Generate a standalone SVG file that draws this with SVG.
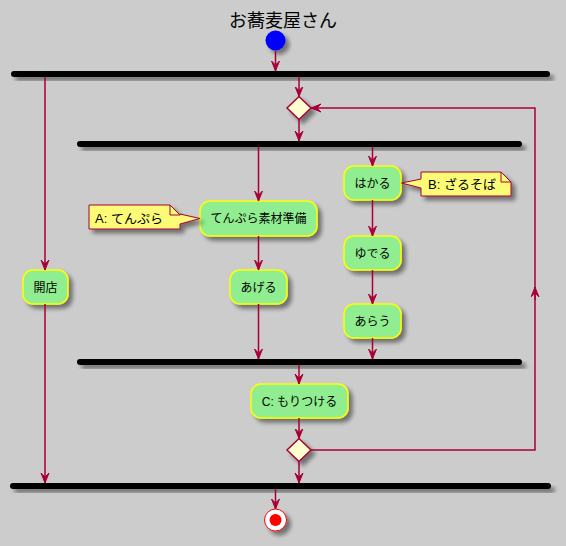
<svg xmlns="http://www.w3.org/2000/svg" width="566" height="546" viewBox="0 0 566 546">
<style>
.act{fill:#90EE90;stroke:#FFFF00;stroke-width:1.5;filter:url(#sh)}
.bar{fill:#000;filter:url(#sh)}
.dia{fill:#FEFECE;stroke:#A80036;stroke-width:1.5;filter:url(#sh)}
.note{fill:#FBFB77;stroke:#A80036;stroke-width:1;filter:url(#sh)}
.fold{fill:none;stroke:#A80036;stroke-width:1}
.ln{fill:none;stroke:#A80036;stroke-width:1.5}
.arr{marker-end:url(#ah)}
text{font-family:"Liberation Sans","Noto Sans CJK JP",sans-serif;fill:#000}
.t{font-size:12px;text-anchor:middle}
.n{font-size:13px}
</style>
<defs>
<filter id="sh" x="-20%" y="-20%" width="150%" height="180%">
<feGaussianBlur in="SourceAlpha" stdDeviation="2"/>
<feOffset dx="4" dy="4" result="b"/>
<feComponentTransfer><feFuncA type="linear" slope="0.45"/></feComponentTransfer>
<feMerge><feMergeNode/><feMergeNode in="SourceGraphic"/></feMerge>
</filter>
<marker id="ah" markerUnits="userSpaceOnUse" markerWidth="11" markerHeight="10" refX="10" refY="4.5" orient="auto" viewBox="0 0 11 10">
<path d="M0,0.5 L10,4.5 L0,8.5 L4,4.5 Z" fill="#A80036" stroke="#A80036" stroke-width="1"/>
</marker>
</defs>
<rect width="566" height="546" fill="#CCCCCC"/>
<text x="283" y="27" font-size="18" text-anchor="middle">お蕎麦屋さん</text>

<g id="start"><circle cx="275.5" cy="40.5" r="10" fill="#0000FF" filter="url(#sh)"/></g>
<g id="fork1"><rect class="bar" x="11" y="71" width="539" height="6" rx="3"/></g>
<g id="merge1"><polygon class="dia" points="299,96.5 311,108 299,119.5 287,108"/></g>
<g id="fork2"><rect class="bar" x="77" y="141" width="445" height="6" rx="3"/></g>
<g id="open"><rect class="act" x="23" y="270" width="45" height="34" rx="10"/><text class="t" x="45.5" y="291.5">開店</text></g>
<g id="tempura"><rect class="act" x="200" y="201" width="117" height="35" rx="10"/><text class="t" x="258.5" y="223">てんぷら素材準備</text></g>
<g id="noteA"><path class="note" d="M89,205 L170,205 L180,215 L180,214 L200,218.5 L180,224 L180,229 L89,229 Z"/><path class="fold" d="M170,205 L170,215 L180,215"/><text class="n" x="95" y="222.5">A: てんぷら</text></g>
<g id="ageru"><rect class="act" x="230" y="270" width="57" height="34" rx="10"/><text class="t" x="258.5" y="291.5">あげる</text></g>
<g id="hakaru"><rect class="act" x="344" y="166" width="57" height="34" rx="10"/><text class="t" x="372.5" y="187.5">はかる</text></g>
<g id="noteB"><path class="note" d="M421,172 L501,172 L511,182 L511,196 L421,196 L421,188 L401.5,183 L421,179 Z"/><path class="fold" d="M501,172 L501,182 L511,182"/><text class="n" x="428" y="189">B: ざるそば</text></g>
<g id="yuderu"><rect class="act" x="344" y="236" width="57" height="34" rx="10"/><text class="t" x="372.5" y="257.5">ゆでる</text></g>
<g id="arau"><rect class="act" x="344" y="304" width="57" height="34" rx="10"/><text class="t" x="372.5" y="325.5">あらう</text></g>
<g id="join3"><rect class="bar" x="77" y="359" width="445" height="6" rx="3"/></g>
<g id="moritsukeru"><rect class="act" x="251" y="384" width="97" height="34" rx="10"/><text class="t" x="299.5" y="405.5">C: もりつける</text></g>
<g id="loop"><polygon class="dia" points="299,438.5 311,450 299,461.5 287,450"/></g>
<g id="join4"><rect class="bar" x="10" y="483" width="541" height="6" rx="3"/></g>
<g id="end"><circle cx="275.5" cy="520" r="11" fill="#FFFFFF" stroke="#FF0000" stroke-width="1" filter="url(#sh)"/><circle cx="275.5" cy="520" r="6" fill="#FF0000"/></g>

<g id="connectors">
<path class="ln arr" d="M275.5,51 L275.5,71"/>
<path class="ln arr" d="M45,77 L45,270"/>
<path class="ln arr" d="M299,77 L299,96.5"/>
<path class="ln arr" d="M299,119.5 L299,141"/>
<path class="ln arr" d="M258.5,147 L258.5,201"/>
<path class="ln arr" d="M372.5,147 L372.5,166"/>
<path class="ln arr" d="M258.5,236 L258.5,270"/>
<path class="ln arr" d="M258.5,304 L258.5,359"/>
<path class="ln arr" d="M372.5,200 L372.5,236"/>
<path class="ln arr" d="M372.5,270 L372.5,304"/>
<path class="ln arr" d="M372.5,338 L372.5,359"/>
<path class="ln arr" d="M299,365 L299,384"/>
<path class="ln arr" d="M299,418 L299,438.5"/>
<path class="ln arr" d="M311,450 L535,450 L535,108 L311,108"/>
<path class="ln arr" d="M535,300 L535,287"/>
<path class="ln arr" d="M299,461.5 L299,483"/>
<path class="ln arr" d="M45,304 L45,483"/>
<path class="ln arr" d="M275.5,489 L275.5,509"/>
</g>
</svg>
